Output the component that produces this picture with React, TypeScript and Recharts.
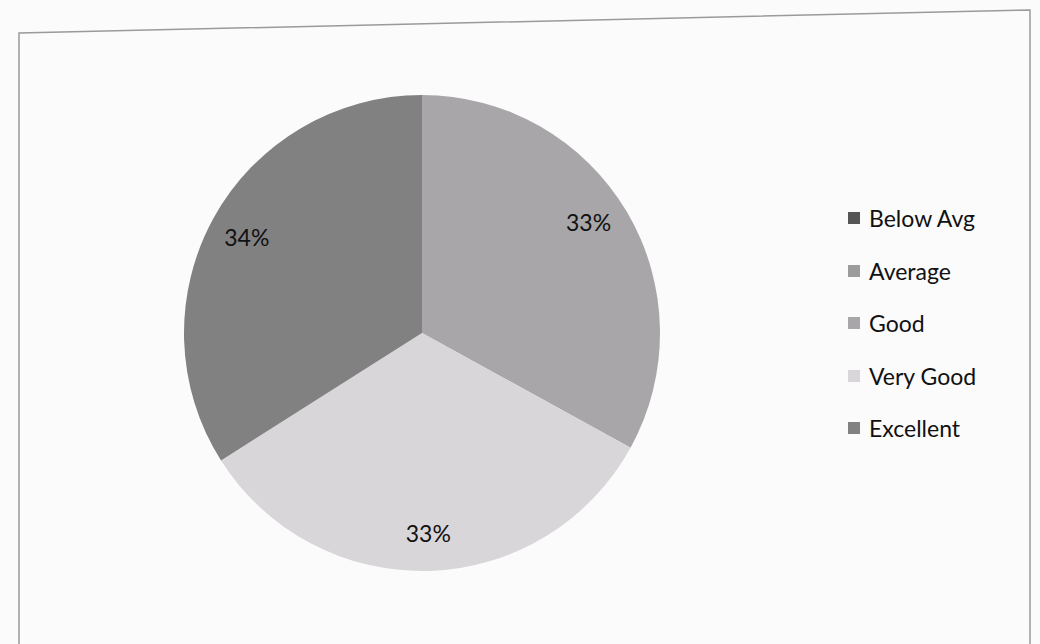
import { PieChart, Pie, Cell, Legend } from "recharts";

const categories = ["Below Avg", "Average", "Good", "Very Good", "Excellent"];
const shares = [0, 0, 33, 33, 34];
const colors = ["#555555", "#9b9b9b", "#a8a6a9", "#d9d6d9", "#828182"];

const data = categories.map((name, i) => ({ name, value: shares[i] }));

const RADIAN = Math.PI / 180;

const renderLabel = (props: any) => {
  const { cx, cy, midAngle, outerRadius, value, percent } = props;
  if (!value) return null;
  const r = outerRadius * 0.84;
  const a = (midAngle + (midAngle < 90 && midAngle > 0 ? 3 : 0)) * RADIAN;
  const x = cx + r * Math.cos(-a);
  const y = cy + r * Math.sin(-a);
  return (
    <text
      x={x}
      y={y}
      fill="#111"
      fontSize={23}
      fontFamily="Lato, 'Open Sans', sans-serif"
      textAnchor="middle"
      dominantBaseline="central"
    >
      {`${Math.round(percent * 100)}%`}
    </text>
  );
};

const LegendBox = () => (
  <div style={{ fontFamily: "Lato, 'Open Sans', sans-serif", fontSize: 23, color: "#111" }}>
    {categories.map((c, i) => (
      <div key={c} style={{ display: "flex", alignItems: "center", height: 52.5 }}>
        <span
          style={{
            display: "inline-block",
            width: 12,
            height: 12,
            background: colors[i],
            marginRight: 9,
          }}
        />
        <span>{c}</span>
      </div>
    ))}
  </div>
);

export default function App() {
  return (
    <div
      style={{
        position: "absolute",
        left: 0,
        top: 0,
        width: 1040,
        height: 644,
        background: "#fbfbfb",
        overflow: "hidden",
      }}
    >
      <svg
        width={1040}
        height={644}
        style={{ position: "absolute", left: 0, top: 0 }}
      >
        <polyline
          points="19,644 19,33 1030,10 1030,644"
          fill="none"
          stroke="#9a9a9a"
          strokeWidth={1.5}
        />
      </svg>
      <div style={{ position: "absolute", left: 0, top: 0 }}>
        <PieChart width={1040} height={644}>
          <Pie
            data={data}
            dataKey="value"
            nameKey="name"
            cx={417}
            cy={328}
            outerRadius={238}
            startAngle={90}
            endAngle={-270}
            stroke="none"
            label={renderLabel}
            labelLine={false}
            isAnimationActive={false}
          >
            {data.map((d, i) => (
              <Cell key={d.name} fill={colors[i]} />
            ))}
          </Pie>
          <Legend
            layout="vertical"
            align="right"
            verticalAlign="top"
            content={() => <LegendBox />}
            wrapperStyle={{ left: 848, top: 192, width: 180 }}
          />
        </PieChart>
      </div>
    </div>
  );
}
